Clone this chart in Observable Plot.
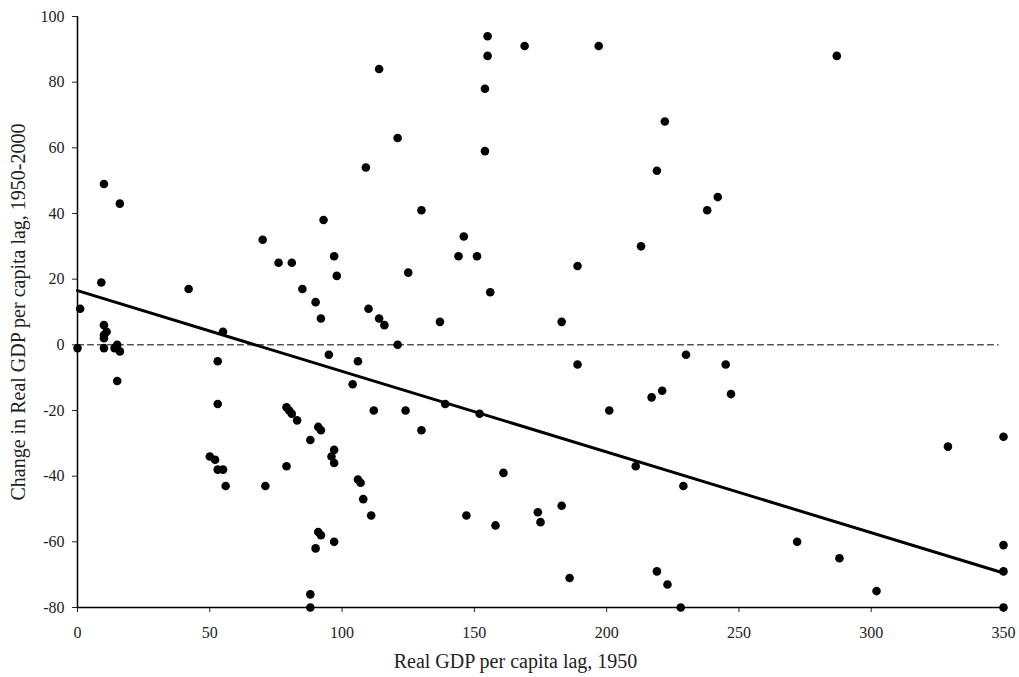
<!DOCTYPE html>
<html>
<head>
<meta charset="utf-8">
<script src="https://cdn.jsdelivr.net/npm/d3@7"></script>
<script src="https://cdn.jsdelivr.net/npm/@observablehq/plot@0.6"></script>
<style>
  html, body { margin: 0; padding: 0; background: #fff; }
  #chart svg { display: block; }
</style>
</head>
<body>
<div id="chart"></div>
<script>
// GDP per capita lag, 1950 (x) and change 1950-2000 (y)
const lag1950 = [
  114, 121, 10, 16, 109, 70, 93, 76, 81, 97, 98, 42, 9, 85, 90, 1, 110, 92, 114,
  116, 121, 10, 11, 10, 10, 10, 0, 15, 14, 16, 15, 55, 53, 53, 95, 106, 104, 112,
  79, 80, 81, 83, 91, 92, 88, 97, 96, 97, 79, 50, 52, 53, 55, 56, 71, 106, 107,
  108, 111, 91, 92, 90, 97, 88, 88,
  155, 169, 197, 155, 154, 222, 154, 219, 242, 238, 130, 146, 144, 151, 213, 125,
  189, 156, 137, 183, 189, 230, 221, 217, 201, 124, 130, 139, 152, 211, 229, 161,
  147, 158, 174, 175, 183, 186, 219, 223, 228,
  245, 247, 350, 329, 272, 288, 302, 350, 350, 350, 287
];
const change = [
  84, 63, 49, 43, 54, 32, 38, 25, 25, 27, 21, 17, 19, 17, 13, 11, 11, 8, 8,
  6, 0, 6, 4, 3, 2, -1, -1, 0, -1, -2, -11, 4, -5, -18, -3, -5, -12, -20,
  -19, -20, -21, -23, -25, -26, -29, -32, -34, -36, -37, -34, -35, -38, -38, -43, -43, -41, -42,
  -47, -52, -57, -58, -62, -60, -76, -80,
  94, 91, 91, 88, 78, 68, 59, 53, 45, 41, 41, 33, 27, 27, 30, 22,
  24, 16, 7, 7, -6, -3, -14, -16, -20, -20, -26, -18, -21, -37, -43, -39,
  -52, -55, -51, -54, -49, -71, -69, -73, -80,
  -6, -15, -28, -31, -60, -65, -75, -61, -69, -80, 88
];
// fitted trend line endpoints and zero reference line
const trendX = [0, 350];
const trendY = [16.5, -69.5];
const zeroX = [0, 348];
const zeroY = [0, 0];
const xTicks = [0, 50, 100, 150, 200, 250, 300, 350];
const yTicks = [-80, -60, -40, -20, 0, 20, 40, 60, 80, 100];
const xTitle = "Real GDP per capita lag, 1950";
const yTitle = "Change in Real GDP per capita lag, 1950-2000";

const points = lag1950.map((x, i) => ({x, y: change[i]}));
const trend = trendX.map((x, i) => ({x, y: trendY[i]}));
const zero = zeroX.map((x, i) => ({x, y: zeroY[i]}));

const chart = Plot.plot({
  width: 1019,
  height: 677,
  marginLeft: 77,
  marginRight: 16,
  marginTop: 16,
  marginBottom: 70,
  style: {fontFamily: "'Liberation Serif', serif", fontSize: "16px", color: "#222", background: "#fff"},
  x: {domain: [0, 350]},
  y: {domain: [-80, 100]},
  marks: [
    Plot.axisX({ticks: xTicks, tickSize: 5, tickPadding: 14, tickFormat: d => String(d), label: null, fontSize: 16}),
    Plot.axisY({ticks: yTicks, tickSize: 5, tickPadding: 8, tickFormat: d => String(d), label: yTitle,
      labelAnchor: "center", labelArrow: "none", labelOffset: 67, fontSize: 16}),
    Plot.text([xTitle], {frameAnchor: "bottom", text: d => d, dy: 54, dx: -25, lineAnchor: "middle", fontSize: 20, fill: "#222"}),
    Plot.ruleX([0], {stroke: "#000", strokeWidth: 1.5}),
    Plot.ruleY([-80], {stroke: "#000", strokeWidth: 1.5}),
    Plot.line(zero, {x: "x", y: "y", stroke: "#000", strokeWidth: 1, strokeDasharray: "6,4"}),
    Plot.line(trend, {x: "x", y: "y", stroke: "#000", strokeWidth: 3}),
    Plot.dot(points, {x: "x", y: "y", r: 4.3, fill: "#000", stroke: "none"})
  ]
});
document.getElementById("chart").appendChild(chart);
chart.querySelectorAll("g[aria-label='y-axis label']").forEach(g => {
  g.setAttribute("font-size", "20");
  g.querySelectorAll("text").forEach(t => t.setAttribute("font-size", "20"));
});
</script>
</body>
</html>
